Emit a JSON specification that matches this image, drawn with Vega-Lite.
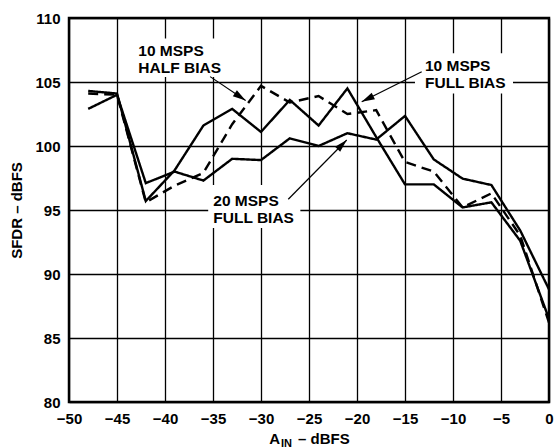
{
  "$schema": "https://vega.github.io/schema/vega-lite/v6.json",
  "width": 480,
  "height": 384,
  "autosize": {"type": "none"},
  "padding": {"left": 69, "top": 18, "right": 5, "bottom": 46},
  "background": "white",
  "datasets": {
    "curves": [
      {"series": "10 MSPS FULL BIAS", "ain": -48, "sfdr": 104.3},
      {"series": "10 MSPS FULL BIAS", "ain": -45, "sfdr": 104.1},
      {"series": "10 MSPS FULL BIAS", "ain": -42, "sfdr": 95.7},
      {"series": "10 MSPS FULL BIAS", "ain": -39, "sfdr": 98.1},
      {"series": "10 MSPS FULL BIAS", "ain": -36, "sfdr": 101.6},
      {"series": "10 MSPS FULL BIAS", "ain": -33, "sfdr": 102.9},
      {"series": "10 MSPS FULL BIAS", "ain": -30, "sfdr": 101.1},
      {"series": "10 MSPS FULL BIAS", "ain": -27, "sfdr": 103.6},
      {"series": "10 MSPS FULL BIAS", "ain": -24, "sfdr": 101.6},
      {"series": "10 MSPS FULL BIAS", "ain": -21, "sfdr": 104.5},
      {"series": "10 MSPS FULL BIAS", "ain": -18, "sfdr": 100.7},
      {"series": "10 MSPS FULL BIAS", "ain": -15, "sfdr": 97.0},
      {"series": "10 MSPS FULL BIAS", "ain": -12, "sfdr": 97.0},
      {"series": "10 MSPS FULL BIAS", "ain": -9, "sfdr": 95.2},
      {"series": "10 MSPS FULL BIAS", "ain": -6, "sfdr": 95.6},
      {"series": "10 MSPS FULL BIAS", "ain": -3, "sfdr": 92.6},
      {"series": "10 MSPS FULL BIAS", "ain": 0, "sfdr": 86.5},
      {"series": "10 MSPS HALF BIAS", "ain": -48, "sfdr": 104.1},
      {"series": "10 MSPS HALF BIAS", "ain": -45, "sfdr": 104.0},
      {"series": "10 MSPS HALF BIAS", "ain": -42, "sfdr": 95.6},
      {"series": "10 MSPS HALF BIAS", "ain": -39, "sfdr": 96.9},
      {"series": "10 MSPS HALF BIAS", "ain": -36, "sfdr": 97.9},
      {"series": "10 MSPS HALF BIAS", "ain": -33, "sfdr": 101.7},
      {"series": "10 MSPS HALF BIAS", "ain": -30, "sfdr": 104.7},
      {"series": "10 MSPS HALF BIAS", "ain": -27, "sfdr": 103.4},
      {"series": "10 MSPS HALF BIAS", "ain": -24, "sfdr": 103.9},
      {"series": "10 MSPS HALF BIAS", "ain": -21, "sfdr": 102.5},
      {"series": "10 MSPS HALF BIAS", "ain": -18, "sfdr": 102.8},
      {"series": "10 MSPS HALF BIAS", "ain": -15, "sfdr": 98.75},
      {"series": "10 MSPS HALF BIAS", "ain": -12, "sfdr": 98.0},
      {"series": "10 MSPS HALF BIAS", "ain": -9, "sfdr": 95.2},
      {"series": "10 MSPS HALF BIAS", "ain": -6, "sfdr": 96.3},
      {"series": "10 MSPS HALF BIAS", "ain": -3, "sfdr": 93.0},
      {"series": "10 MSPS HALF BIAS", "ain": 0, "sfdr": 86.2},
      {"series": "20 MSPS FULL BIAS", "ain": -48, "sfdr": 102.9},
      {"series": "20 MSPS FULL BIAS", "ain": -45, "sfdr": 104.0},
      {"series": "20 MSPS FULL BIAS", "ain": -42, "sfdr": 97.1},
      {"series": "20 MSPS FULL BIAS", "ain": -39, "sfdr": 98.0},
      {"series": "20 MSPS FULL BIAS", "ain": -36, "sfdr": 97.3},
      {"series": "20 MSPS FULL BIAS", "ain": -33, "sfdr": 99.0},
      {"series": "20 MSPS FULL BIAS", "ain": -30, "sfdr": 98.9},
      {"series": "20 MSPS FULL BIAS", "ain": -27, "sfdr": 100.6},
      {"series": "20 MSPS FULL BIAS", "ain": -24, "sfdr": 100.0},
      {"series": "20 MSPS FULL BIAS", "ain": -21, "sfdr": 101.0},
      {"series": "20 MSPS FULL BIAS", "ain": -18, "sfdr": 100.5},
      {"series": "20 MSPS FULL BIAS", "ain": -15, "sfdr": 102.35},
      {"series": "20 MSPS FULL BIAS", "ain": -12, "sfdr": 98.95},
      {"series": "20 MSPS FULL BIAS", "ain": -9, "sfdr": 97.45},
      {"series": "20 MSPS FULL BIAS", "ain": -6, "sfdr": 96.95},
      {"series": "20 MSPS FULL BIAS", "ain": -3, "sfdr": 93.4},
      {"series": "20 MSPS FULL BIAS", "ain": 0, "sfdr": 88.8}
    ],
    "boxes": [
      {"note": "half", "xa": -43.3, "xb": -34.5, "ya": 105.4, "yb": 108.4},
      {"note": "full10", "xa": -13.96, "xb": -3.75, "ya": 104.1, "yb": 107.24},
      {"note": "full20", "xa": -35.5, "xb": -25.9, "ya": 93.6, "yb": 96.95}
    ],
    "arrows": [
      {"note": "half", "xs": -35.3, "ys": 105.42, "xt": -31.6, "yt": 103.55},
      {"note": "full10", "xs": -13.26, "ys": 105.8, "xt": -19.51, "yt": 103.46},
      {"note": "full20", "xs": -27.16, "ys": 95.84, "xt": -21.07, "yt": 100.47}
    ],
    "labels": [
      {"text": "10 MSPS", "xl": -42.78, "yl": 107.44},
      {"text": "HALF BIAS", "xl": -42.78, "yl": 106.13},
      {"text": "10 MSPS", "xl": -12.92, "yl": 106.27},
      {"text": "FULL BIAS", "xl": -12.92, "yl": 104.96},
      {"text": "20 MSPS", "xl": -34.97, "yl": 95.72},
      {"text": "FULL BIAS", "xl": -34.97, "yl": 94.41}
    ]
  },
  "layer": [
    {
      "data": {"name": "boxes"},
      "mark": {"type": "rect", "fill": "white", "stroke": null},
      "encoding": {
        "x": {"field": "xa", "type": "quantitative"},
        "x2": {"field": "xb"},
        "y": {"field": "ya", "type": "quantitative"},
        "y2": {"field": "yb"}
      }
    },
    {
      "data": {"name": "curves"},
      "mark": {"type": "line", "color": "black", "strokeWidth": 2.4, "strokeJoin": "miter"},
      "encoding": {
        "x": {
          "field": "ain", "type": "quantitative",
          "scale": {"domain": [-50, 0], "nice": false, "zero": false},
          "axis": {"values": [-50, -45, -40, -35, -30, -25, -20, -15, -10, -5, 0], "title": null, "format": "d"}
        },
        "y": {
          "field": "sfdr", "type": "quantitative",
          "scale": {"domain": [80, 110], "nice": false, "zero": false},
          "axis": {"values": [80, 85, 90, 95, 100, 105, 110], "title": "SFDR – dBFS", "format": "d"}
        },
        "detail": {"field": "series"},
        "strokeDash": {
          "field": "series", "type": "nominal",
          "scale": {"domain": ["10 MSPS FULL BIAS", "10 MSPS HALF BIAS", "20 MSPS FULL BIAS"], "range": [[1, 0], [10, 6], [1, 0]]},
          "legend": null
        }
      }
    },
    {
      "data": {"name": "arrows"},
      "mark": {"type": "rule", "color": "black", "strokeWidth": 1.2},
      "encoding": {
        "x": {"field": "xs", "type": "quantitative"},
        "y": {"field": "ys", "type": "quantitative"},
        "x2": {"field": "xt"},
        "y2": {"field": "yt"}
      }
    },
    {
      "data": {"name": "arrows"},
      "transform": [{"filter": "datum.note === 'half'"}],
      "mark": {"type": "point", "shape": "M0,0L-1,-0.28L-1,0.28Z", "size": 676, "filled": true, "color": "black", "opacity": 1, "angle": 34},
      "encoding": {
        "x": {"field": "xt", "type": "quantitative"},
        "y": {"field": "yt", "type": "quantitative"}
      }
    },
    {
      "data": {"name": "arrows"},
      "transform": [{"filter": "datum.note === 'full10'"}],
      "mark": {"type": "point", "shape": "M0,0L-1,-0.28L-1,0.28Z", "size": 676, "filled": true, "color": "black", "opacity": 1, "angle": 153.5},
      "encoding": {
        "x": {"field": "xt", "type": "quantitative"},
        "y": {"field": "yt", "type": "quantitative"}
      }
    },
    {
      "data": {"name": "arrows"},
      "transform": [{"filter": "datum.note === 'full20'"}],
      "mark": {"type": "point", "shape": "M0,0L-1,-0.28L-1,0.28Z", "size": 676, "filled": true, "color": "black", "opacity": 1, "angle": 314.7},
      "encoding": {
        "x": {"field": "xt", "type": "quantitative"},
        "y": {"field": "yt", "type": "quantitative"}
      }
    },
    {
      "data": {"name": "labels"},
      "mark": {"type": "text", "align": "left", "baseline": "middle", "font": "Liberation Sans", "fontWeight": "bold", "fontSize": 15.5, "color": "black"},
      "encoding": {
        "x": {"field": "xl", "type": "quantitative"},
        "y": {"field": "yl", "type": "quantitative"},
        "text": {"field": "text"}
      }
    },
    {
      "data": {"values": [{}]},
      "mark": {"type": "text", "text": "A", "align": "right", "baseline": "middle", "dx": -29, "dy": 37, "font": "Liberation Sans", "fontWeight": "bold", "fontSize": 15, "color": "black"},
      "encoding": {"x": {"datum": -25}, "y": {"datum": 80}}
    },
    {
      "data": {"values": [{}]},
      "mark": {"type": "text", "text": "IN", "align": "left", "baseline": "middle", "dx": -28, "dy": 42, "font": "Liberation Sans", "fontWeight": "bold", "fontSize": 11, "color": "black"},
      "encoding": {"x": {"datum": -25}, "y": {"datum": 80}}
    },
    {
      "data": {"values": [{}]},
      "mark": {"type": "text", "text": "– dBFS", "align": "left", "baseline": "middle", "dx": -11, "dy": 37, "font": "Liberation Sans", "fontWeight": "bold", "fontSize": 15, "color": "black"},
      "encoding": {"x": {"datum": -25}, "y": {"datum": 80}}
    }
  ],
  "config": {
    "view": {"stroke": "black", "strokeWidth": 2.5},
    "axis": {
      "grid": true,
      "gridColor": "black",
      "gridWidth": 1.3,
      "gridOpacity": 1,
      "domain": false,
      "ticks": false,
      "labelFlush": false,
      "labelFont": "Liberation Sans",
      "labelFontWeight": "bold",
      "labelFontSize": 15,
      "labelColor": "black",
      "titleFont": "Liberation Sans",
      "titleFontWeight": "bold",
      "titleFontSize": 15,
      "titleColor": "black"
    },
    "axisX": {"labelPadding": 9},
    "axisY": {"labelPadding": 9, "titlePadding": 10}
  }
}
